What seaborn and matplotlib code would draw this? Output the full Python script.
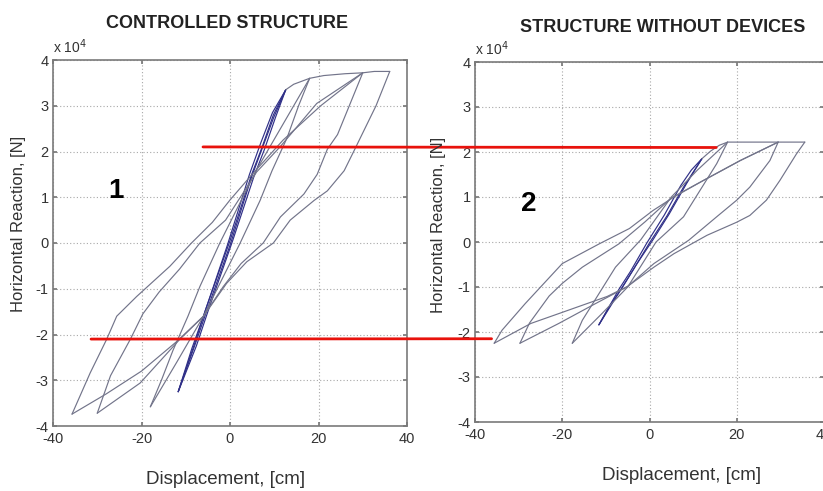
import matplotlib
matplotlib.use("Agg")
import matplotlib.pyplot as plt
import pandas as pd
import seaborn as sns
from matplotlib.patches import ConnectionPatch

# ---------------- data (displacement in cm, reaction in 1e4 N) ----------------
# Controlled structure (panel 1)
c_el_up_x = [-11.7, -8.0, -5.5, 0.0, 4.9, 7.4, 9.9, 12.6]
c_el_up_y = [-3.25, -2.25, -1.55, -0.05, 1.45, 2.1, 2.75, 3.35]
c_el_dn_x = [12.6, 9.8, 7.2, 4.9, 0.0, -5.5, -8.0, -11.7]
c_el_dn_y = [3.35, 2.8, 2.08, 1.5, 0.05, -1.45, -2.2, -3.25]
c_el_up2_x = [-11.7, -8.6, -6.0, -0.6, 4.4, 7.0, 9.6, 12.6]
c_el_up2_y = [-3.25, -2.3, -1.6, -0.05, 1.5, 2.2, 2.85, 3.35]
c_el_dn2_x = [12.6, 10.3, 7.8, 5.4, 0.6, -5.0, -7.6, -11.7]
c_el_dn2_y = [3.35, 2.75, 2.05, 1.45, 0.05, -1.5, -2.25, -3.25]
c_env_x = [12.6, 14.4, 18.0, 21.2, 26.0, 30.0, 32.6, 36.1]
c_env_y = [3.35, 3.47, 3.6, 3.66, 3.7, 3.72, 3.75, 3.75]
c_d18_x = [18.0, 15.5, 12.9, 9.5, 6.8, 2.3, -6.0, -12.0, -18.0]
c_d18_y = [3.6, 3.0, 2.3, 1.58, 0.93, 0.0, -1.6, -2.6, -3.58]
c_a18_x = [-18.0, -15.5, -12.9, -9.5, -6.8, -2.3, 6.0, 12.0, 18.0]
c_a18_y = [-3.58, -3.0, -2.35, -1.6, -0.95, 0.0, 1.6, 2.6, 3.6]
c_d30_x = [30.0, 24.3, 22.0, 19.7, 16.7, 11.4, 7.5, 2.5, -1.5, -6.0, -11.3, -20.3, -30.0]
c_d30_y = [3.72, 2.37, 2.05, 1.5, 1.07, 0.57, 0.0, -0.45, -0.95, -1.6, -2.1, -3.06, -3.72]
c_a30_x = [-30.0, -27.0, -22.5, -19.7, -16.0, -11.4, -6.8, -1.0, 2.0, 6.0, 11.3, 19.6, 30.0]
c_a30_y = [-3.72, -2.9, -2.1, -1.55, -1.07, -0.57, 0.0, 0.5, 0.95, 1.55, 2.1, 3.05, 3.72]
c_d36_x = [36.1, 33.0, 28.0, 25.8, 22.0, 19.0, 13.6, 9.8, 3.8, -0.75, -6.0, -12.0, -20.0, -28.0, -35.7]
c_d36_y = [3.75, 3.0, 2.01, 1.58, 1.14, 0.93, 0.5, 0.0, -0.41, -0.88, -1.6, -2.15, -2.8, -3.3, -3.74]
c_a36_x = [-35.7, -31.6, -27.9, -25.6, -21.1, -13.6, -8.7, -4.0, 0.0, 5.0, 12.0, 20.5, 30.0]
c_a36_y = [-3.74, -2.84, -2.11, -1.6, -1.17, -0.51, 0.0, 0.45, 0.94, 1.5, 2.25, 3.0, 3.72]

# Structure without devices (panel 2)
w_el_up_x = [-11.6, -6.2, -3.8, 0.0, 4.0, 7.8, 10.0, 12.0]
w_el_up_y = [-1.84, -1.0, -0.63, -0.02, 0.58, 1.22, 1.55, 1.85]
w_el_dn_x = [12.0, 8.5, 4.5, 0.8, -3.0, -6.5, -9.0, -11.6]
w_el_dn_y = [1.85, 1.3, 0.62, 0.05, -0.5, -1.05, -1.4, -1.84]
w_el_up2_x = [-11.6, -7.0, -4.4, -0.6, 3.4, 7.2, 9.6, 12.0]
w_el_up2_y = [-1.84, -1.05, -0.66, -0.02, 0.6, 1.26, 1.6, 1.85]
w_env_x = [12.0, 14.0, 16.0, 17.9, 24.0, 29.5, 35.6]
w_env_y = [1.85, 2.02, 2.15, 2.22, 2.22, 2.22, 2.22]
w_d18_x = [17.9, 15.4, 11.6, 7.8, 1.5, -5.0, -11.0, -17.7]
w_d18_y = [2.22, 1.74, 1.15, 0.56, 0.0, -1.0, -1.6, -2.25]
w_a18_x = [-17.7, -15.4, -11.6, -7.8, -2.0, 5.0, 11.0, 17.9]
w_a18_y = [-2.25, -1.74, -1.15, -0.56, 0.05, 1.0, 1.6, 2.22]
w_d30_x = [29.5, 27.6, 23.0, 20.0, 15.4, 9.0, 1.0, -5.0, -12.4, -20.8, -29.7]
w_d30_y = [2.22, 1.81, 1.22, 0.93, 0.56, 0.04, -0.48, -0.99, -1.37, -1.81, -2.25]
w_a30_x = [-29.7, -27.5, -23.0, -20.0, -15.4, -7.0, -1.0, 5.0, 12.4, 20.8, 29.5]
w_a30_y = [-2.25, -1.8, -1.2, -0.92, -0.56, -0.04, 0.45, 0.98, 1.37, 1.81, 2.22]
w_d36_x = [35.6, 33.7, 29.9, 26.8, 23.0, 20.0, 13.2, 5.6, 1.0, -5.1, -9.7, -19.6, -27.2, -35.6]
w_d36_y = [2.22, 1.96, 1.37, 0.93, 0.59, 0.44, 0.15, -0.26, -0.56, -0.99, -1.21, -1.55, -1.81, -2.25]
w_a36_x = [-35.6, -33.8, -28.5, -20.0, -11.5, -4.6, 0.8, 5.6, 12.4, 20.8, 29.5]
w_a36_y = [-2.25, -1.96, -1.37, -0.48, -0.04, 0.3, 0.7, 1.0, 1.37, 1.81, 2.22]

x_ticks = [-40, -20, 0, 20, 40]
y_ticks = [-4, -3, -2, -1, 0, 1, 2, 3, 4]
titles = ["CONTROLLED STRUCTURE", "STRUCTURE WITHOUT DEVICES"]
panel_tags = ["1", "2"]
x_label = "Displacement, [cm]"
y_label = "Horizontal Reaction, [N]"
red_level = 2.1  # 1e4 N, comparison lines


def build(branches):
    rows = []
    for name, (xs, ys, kind) in branches.items():
        for i, (x, y) in enumerate(zip(xs, ys)):
            rows.append(dict(branch=name, order=i, x=x, y=y, kind=kind))
    return pd.DataFrame(rows)


df_c = build({
    "el_up": (c_el_up_x, c_el_up_y, "elastic"),
    "el_dn": (c_el_dn_x, c_el_dn_y, "elastic"),
    "el_up2": (c_el_up2_x, c_el_up2_y, "elastic"),
    "el_dn2": (c_el_dn2_x, c_el_dn2_y, "elastic"),
    "env": (c_env_x, c_env_y, "plastic"),
    "d18": (c_d18_x, c_d18_y, "plastic"),
    "a18": (c_a18_x, c_a18_y, "plastic"),
    "d30": (c_d30_x, c_d30_y, "plastic"),
    "a30": (c_a30_x, c_a30_y, "plastic"),
    "d36": (c_d36_x, c_d36_y, "plastic"),
    "a36": (c_a36_x, c_a36_y, "plastic"),
})
df_w = build({
    "el_up": (w_el_up_x, w_el_up_y, "elastic"),
    "el_dn": (w_el_dn_x, w_el_dn_y, "elastic"),
    "el_up2": (w_el_up2_x, w_el_up2_y, "elastic"),
    "env": (w_env_x, w_env_y, "plastic"),
    "d18": (w_d18_x, w_d18_y, "plastic"),
    "a18": (w_a18_x, w_a18_y, "plastic"),
    "d30": (w_d30_x, w_d30_y, "plastic"),
    "a30": (w_a30_x, w_a30_y, "plastic"),
    "d36": (w_d36_x, w_d36_y, "plastic"),
    "a36": (w_a36_x, w_a36_y, "plastic"),
})

sns.set_theme(style="white")
plt.rcParams['font.family'] = ['Liberation Sans', 'DejaVu Sans']
plt.rcParams['axes.unicode_minus'] = False

W, H = 823, 491
fig = plt.figure(figsize=(W / 100, H / 100), dpi=100)
ax1 = fig.add_axes([53 / W, 1 - 426 / H, (407 - 53) / W, (426 - 60) / H])
ax2 = fig.add_axes([475 / W, 1 - 422 / H, (824 - 475) / W, (422 - 62) / H])

palette = {"elastic": "#303088", "plastic": "#72748a"}
for ax, df in ((ax1, df_c), (ax2, df_w)):
    sns.lineplot(data=df, x="x", y="y", hue="kind", units="branch",
                 estimator=None, sort=False, palette=palette, lw=0.85,
                 legend=False, ax=ax)
    ax.set_xlim(-40, 40)
    ax.set_ylim(-4, 4)
    ax.set_xticks(x_ticks)
    ax.set_yticks(y_ticks)
    ax.grid(True, linestyle=(0, (1, 2)), color="#a8a8a8", lw=0.8)
    for s in ax.spines.values():
        s.set_color("#7a7a7a")
        s.set_linewidth(1.2)
    ax.tick_params(direction="in", length=3, color="#7a7a7a",
                   labelsize=10.5, labelcolor="#333333",
                   top=True, right=True, bottom=True, left=True)
    ax.tick_params(axis="x", pad=4)
    ax.tick_params(axis="y", pad=3)
    ax.set_xlabel("")
    ax.set_ylabel("")
    ax.text(0.0, 1.01, r"x 10$^4$", transform=ax.transAxes, fontsize=10,
            color="#333333", ha="left", va="bottom")

# titles, labels, tags
fig.text(227 / W, 1 - 24 / H, titles[0], ha="center", va="center",
         fontsize=13, fontweight="bold", color="#222222")
fig.text(663 / W, 1 - 28 / H, titles[1], ha="center", va="center",
         fontsize=13, fontweight="bold", color="#222222")
fig.text(226 / W, 1 - 480 / H, x_label, ha="center", va="center",
         fontsize=13.5, color="#333333")
fig.text(682 / W, 1 - 476 / H, x_label, ha="center", va="center",
         fontsize=13.5, color="#333333")
fig.text(19 / W, 1 - 224 / H, y_label, ha="center", va="center",
         rotation=90, fontsize=12, color="#333333")
fig.text(439 / W, 1 - 225 / H, y_label, ha="center", va="center",
         rotation=90, fontsize=12, color="#333333")
fig.text(116 / W, 1 - 191 / H, panel_tags[0], ha="center", va="center",
         fontsize=20, fontweight="bold", color="black")
fig.text(529 / W, 1 - 204 / H, panel_tags[1], ha="center", va="center",
         fontsize=20, fontweight="bold", color="black")

# red comparison lines across the two panels
top = ConnectionPatch(xyA=(-6.1, red_level), coordsA=ax1.transData,
                      xyB=(15.3, red_level), coordsB=ax2.transData,
                      color="#e8120c", lw=2.0)
bot = ConnectionPatch(xyA=(-31.4, -red_level), coordsA=ax1.transData,
                      xyB=(-36.2, -red_level - 0.05), coordsB=ax2.transData,
                      color="#e8120c", lw=2.0)
fig.add_artist(top)
fig.add_artist(bot)

fig.savefig("out.png", dpi=100, facecolor="white")
